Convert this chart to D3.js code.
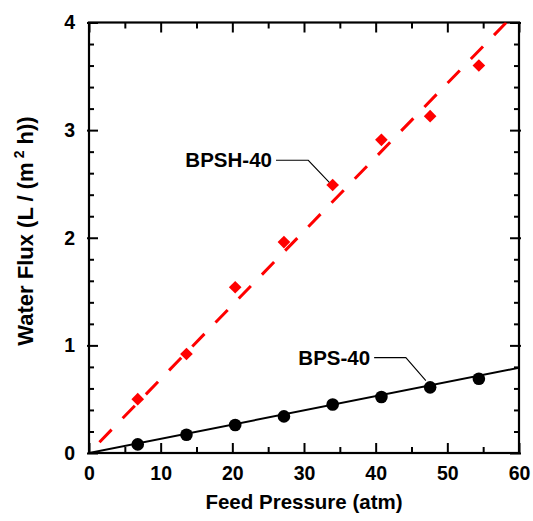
<!DOCTYPE html>
<html><head><meta charset="utf-8">
<script src="https://cdn.jsdelivr.net/npm/d3@7"></script>
<style>
body{margin:0;background:#fff;}
svg{display:block;}
text{font-family:"Liberation Sans",Arial,sans-serif;font-weight:bold;fill:#000;}
</style></head>
<body>
<svg id="chart" width="533" height="521"></svg>
<script>
// ---- data ----
const pressure = [6.8, 13.6, 20.4, 27.2, 34.0, 40.8, 47.6, 54.4];
const bpshFlux = [0.50, 0.92, 1.54, 1.96, 2.49, 2.91, 3.13, 3.60];
const bpsFlux  = [0.08, 0.17, 0.26, 0.34, 0.45, 0.52, 0.61, 0.69];
const bpshSlope = 0.0687;   // fitted line through origin
const bpsSlope  = 0.0132;
const xTicks = [0, 10, 20, 30, 40, 50, 60];
const yTicks = [0, 1, 2, 3, 4];
const seriesNames = ["BPSH-40", "BPS-40"];

// ---- layout ----
const svg = d3.select("#chart");
const L = 89, R = 519, T = 22.5, B = 453;
const x = d3.scaleLinear().domain([0, 60]).range([L, R]);
const y = d3.scaleLinear().domain([0, 4]).range([B, T]);

const xMinor = d3.range(5, 60, 10);
const yMinor = d3.range(0, 4.001, 0.2).filter(v => Math.abs(v - Math.round(v)) > 1e-6);

function styleAxis(g){
  g.select(".domain").remove();
  g.selectAll("line").attr("stroke","#000").attr("stroke-width",2);
  g.selectAll("text").style("font-size","19.5px").style("font-family",'"Liberation Sans",Arial,sans-serif').style("font-weight","bold");
}

// major axes
svg.append("g").attr("transform",`translate(0,${B})`)
  .call(d3.axisBottom(x).tickValues(xTicks).tickSize(-10).tickPadding(13).tickFormat(d3.format("d")))
  .call(styleAxis);
svg.append("g").attr("transform",`translate(${L},0)`)
  .call(d3.axisLeft(y).tickValues(yTicks).tickSize(-9).tickPadding(14).tickFormat(d3.format("d")))
  .call(styleAxis)
  .call(g => g.selectAll(".tick line").attr("x1",-2));
svg.append("g").attr("transform",`translate(0,${T})`)
  .call(d3.axisTop(x).tickValues(xTicks).tickSize(-10).tickFormat(""))
  .call(styleAxis);
svg.append("g").attr("transform",`translate(${R},0)`)
  .call(d3.axisRight(y).tickValues(yTicks).tickSize(-9).tickFormat(""))
  .call(styleAxis)
  .call(g => g.selectAll(".tick line").attr("x1",2));
// minor ticks
svg.append("g").attr("transform",`translate(0,${B})`)
  .call(d3.axisBottom(x).tickValues(xMinor).tickSize(-6).tickFormat("")).call(styleAxis);
svg.append("g").attr("transform",`translate(0,${T})`)
  .call(d3.axisTop(x).tickValues(xMinor).tickSize(-6).tickFormat("")).call(styleAxis);
svg.append("g").attr("transform",`translate(${L},0)`)
  .call(d3.axisLeft(y).tickValues(yMinor).tickSize(-5).tickFormat("")).call(styleAxis)
  .call(g => g.selectAll(".tick line").attr("x1",-1));
svg.append("g").attr("transform",`translate(${R},0)`)
  .call(d3.axisRight(y).tickValues(yMinor).tickSize(-5).tickFormat("")).call(styleAxis)
  .call(g => g.selectAll(".tick line").attr("x1",1));

// frame
svg.append("rect").attr("x",L).attr("y",T).attr("width",R-L).attr("height",B-T)
  .attr("fill","none").attr("stroke","#000").attr("stroke-width",2.2);

// clip
svg.append("clipPath").attr("id","clip").append("rect")
  .attr("x",L).attr("y",T).attr("width",R-L).attr("height",B-T);

const line = d3.line().x(d => x(d[0])).y(d => y(d[1]));

// fitted lines
const bpshEnd = 4 / bpshSlope;
svg.append("path").attr("clip-path","url(#clip)")
  .datum([[0,0],[bpshEnd, 4]])
  .attr("d", line).attr("fill","none").attr("stroke","#ff0000").attr("stroke-width",3)
  .attr("stroke-dasharray","17.5,15.85").attr("stroke-dashoffset",18.35);
svg.append("path").attr("clip-path","url(#clip)")
  .datum([[0,0],[60, 60*bpsSlope]])
  .attr("d", line).attr("fill","none").attr("stroke","#000").attr("stroke-width",2);

// markers
const diamond = d3.symbol().type(d3.symbolSquare).size(80);
svg.append("g").selectAll("path").data(pressure.map((p,i)=>[p,bpshFlux[i]])).join("path")
  .attr("d", diamond)
  .attr("transform", d => `translate(${x(d[0])},${y(d[1])}) rotate(45)`)
  .attr("fill","#ff0000");
svg.append("g").selectAll("circle").data(pressure.map((p,i)=>[p,bpsFlux[i]])).join("circle")
  .attr("cx", d => x(d[0])).attr("cy", d => y(d[1])).attr("r", 6.3).attr("fill","#000");

// annotations
function annotate(name, px, py){
  const tx = x(px), ty = y(py);
  const pts = name === "BPSH-40"
    ? [[tx-56.7, ty-24.7],[tx-24.4, ty-24.7],[tx-3.4, ty-2.7]]
    : [[tx-56, ty-29.7],[tx-24.3, ty-29.7],[tx-4.3, ty-6.7]];
  svg.append("path").attr("d", d3.line()(pts)).attr("fill","none").attr("stroke","#000").attr("stroke-width",1.1);
  svg.append("text").attr("x", pts[0][0]-4).attr("y", pts[0][1]+7)
    .attr("text-anchor","end").style("font-size","20.5px").text(name);
}
annotate(seriesNames[0], pressure[4], bpshFlux[4]);
annotate(seriesNames[1], pressure[6], bpsFlux[6]);

// axis titles
svg.append("text").attr("x",(L+R)/2).attr("y",509).attr("text-anchor","middle")
  .style("font-size","20.5px").text("Feed Pressure (atm)");
const yt = svg.append("text").attr("transform","translate(33,231) rotate(-90)")
  .attr("text-anchor","middle").style("font-size","22px");
yt.append("tspan").text("Water Flux (L / (m");
yt.append("tspan").attr("dx",4).attr("dy",-9).style("font-size","14px").text("2");
yt.append("tspan").attr("dy",9).text(" h))");
</script>
</body></html>
